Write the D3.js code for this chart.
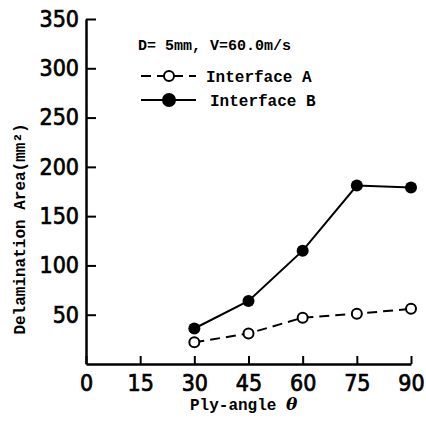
<!DOCTYPE html>
<html>
<head>
<meta charset="utf-8">
<script src="https://cdn.jsdelivr.net/npm/d3@7"></script>
<style>
  body { margin: 0; background: #fff; }
  .tick text { font-family: "DejaVu Sans Condensed", "DejaVu Sans", sans-serif; font-size: 23px; fill: #000; stroke: #000; stroke-width: 0.7px; }
  .lbl { font-family: "Liberation Mono", "DejaVu Sans Mono", monospace; font-weight: bold; fill: #000; }
</style>
</head>
<body>
<svg id="chart"></svg>
<script>
const angles = [30, 45, 60, 75, 90];
const interfaceA = [22, 31, 47, 51, 56];
const interfaceB = [36, 64, 115, 181, 179];
const xTicks = [0, 15, 30, 45, 60, 75, 90];
const yTicks = [50, 100, 150, 200, 250, 300, 350];

const width = 426;
const height = 433;

const svg = d3.select('#chart')
  .attr('width', width)
  .attr('height', height);

const x = d3.scaleLinear().domain([0, 90]).range([86, 411]);
const y = d3.scaleLinear().domain([0, 350]).range([364, 19]);

// axes, ticks point inward
const xAxis = d3.axisBottom(x).tickValues(xTicks).tickSize(-8).tickPadding(11).tickSizeOuter(0);
const yAxis = d3.axisLeft(y).tickValues(yTicks).tickSize(-10).tickPadding(7).tickSizeOuter(0);

const gx = svg.append('g')
  .attr('transform', `translate(0,${y(0)})`)
  .call(xAxis);
const gy = svg.append('g')
  .attr('transform', `translate(${x(0)},0)`)
  .call(yAxis);

[gx, gy].forEach((g) => {
  g.select('.domain').attr('stroke', '#000').attr('stroke-width', 2.5);
  g.selectAll('.tick line').attr('stroke', '#000').attr('stroke-width', 2);
});

// series
const line = d3.line()
  .x((d) => x(d[0]))
  .y((d) => y(d[1]));

const ptsA = angles.map((a, i) => [a, interfaceA[i]]);
const ptsB = angles.map((a, i) => [a, interfaceB[i]]);

svg.append('path')
  .datum(ptsA)
  .attr('d', line)
  .attr('fill', 'none')
  .attr('stroke', '#000')
  .attr('stroke-width', 2)
  .attr('stroke-dasharray', '10,6');

svg.append('path')
  .datum(ptsB)
  .attr('d', line)
  .attr('fill', 'none')
  .attr('stroke', '#000')
  .attr('stroke-width', 2);

svg.selectAll('.ptA')
  .data(ptsA)
  .enter()
  .append('circle')
  .attr('class', 'ptA')
  .attr('cx', (d) => x(d[0]))
  .attr('cy', (d) => y(d[1]))
  .attr('r', 5)
  .attr('fill', '#fff')
  .attr('stroke', '#000')
  .attr('stroke-width', 2);

svg.selectAll('.ptB')
  .data(ptsB)
  .enter()
  .append('circle')
  .attr('class', 'ptB')
  .attr('cx', (d) => x(d[0]))
  .attr('cy', (d) => y(d[1]))
  .attr('r', 6)
  .attr('fill', '#000');

// legend
svg.append('text')
  .attr('class', 'lbl')
  .attr('x', 138)
  .attr('y', 50)
  .style('font-size', '15px')
  .text('D= 5mm, V=60.0m/s');

const legend = [
  { name: 'Interface A', y: 76, dash: '10,6', fill: '#fff', r: 5, tx: 206 },
  { name: 'Interface B', y: 100, dash: null, fill: '#000', r: 6, tx: 210 }
];

const lg = svg.selectAll('.legend')
  .data(legend)
  .enter()
  .append('g')
  .attr('class', 'legend');

lg.append('line')
  .attr('x1', 141)
  .attr('x2', 196)
  .attr('y1', (d) => d.y)
  .attr('y2', (d) => d.y)
  .attr('stroke', '#000')
  .attr('stroke-width', 2)
  .attr('stroke-dasharray', (d) => d.dash);

lg.append('circle')
  .attr('cx', 169)
  .attr('cy', (d) => d.y)
  .attr('r', (d) => d.r)
  .attr('fill', (d) => d.fill)
  .attr('stroke', '#000')
  .attr('stroke-width', 2);

lg.append('text')
  .attr('class', 'lbl')
  .attr('x', (d) => d.tx)
  .attr('y', (d) => d.y + 6)
  .style('font-size', '16px')
  .text((d) => d.name);

// axis titles
svg.append('text')
  .attr('class', 'lbl')
  .attr('transform', 'translate(25,229) rotate(-90)')
  .attr('text-anchor', 'middle')
  .style('font-size', '16px')
  .text('Delamination Area(mm²)');

const xt = svg.append('text')
  .attr('class', 'lbl')
  .attr('x', 190)
  .attr('y', 410)
  .style('font-size', '16px')
  .text('Ply-angle ');
xt.append('tspan')
  .style('font-family', '"DejaVu Serif", serif')
  .style('font-style', 'italic')
  .style('font-size', '17px')
  .text('θ');
</script>
</body>
</html>
